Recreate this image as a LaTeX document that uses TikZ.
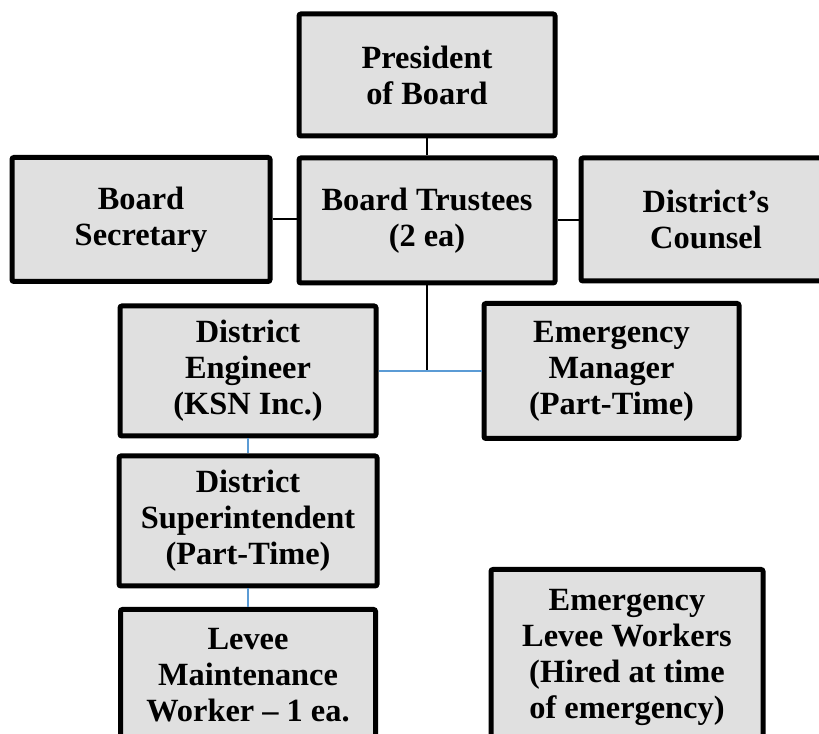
\documentclass[tikz,border=0pt]{standalone}
\usepackage{fontspec}
\setmainfont{Liberation Serif}
\usepackage{tikz}
\definecolor{boxgray}{RGB}{224,224,224}
\definecolor{lineblue}{RGB}{91,155,213}
\tikzset{
  orgbox/.style  = {shape=rectangle, rounded corners=1.5pt,
                    draw, line width=3.75pt, align=center,
                    fill=boxgray, inner sep=2pt,
                    font=\fontsize{24.3}{27}\selectfont\bfseries},
  topline/.style = {draw, line width=1.5pt},
  subline/.style = {draw=lineblue, line width=1.1pt}
}

\begin{document}
\begin{tikzpicture}[x=0.75pt, y=-0.75pt]
  \useasboundingbox (0,0) rectangle (819,734);

  \node [orgbox, minimum width=192pt, minimum height=91.5pt]
    (pres) at (427,75) {President\\of Board};
  \node [orgbox, minimum width=193.5pt, minimum height=93pt]
    (sec) at (141,219.5) {Board\\Secretary};
  \node [orgbox, minimum width=192pt, minimum height=93.75pt]
    (trust) at (427,220.5) {Board Trustees\\(2 ea)};
  \node [orgbox, minimum width=187.5pt, minimum height=92.25pt]
    (counsel) at (706,219.5) {District’s\\Counsel};

  \node [orgbox, minimum width=192pt, minimum height=97.5pt]
    (eng) at (248,371) {District\\Engineer\\(KSN Inc.)};
  \node [orgbox, minimum width=191.25pt, minimum height=101.25pt]
    (mgr) at (611.5,371) {Emergency\\Manager\\(Part-Time)};
  \node [orgbox, minimum width=193.5pt, minimum height=97.5pt]
    (supt) at (248,521) {District\\Superintendent\\(Part-Time)};
  \node [orgbox, minimum width=191.25pt, minimum height=99pt]
    (maint) at (248,675.5) {Levee\\Maintenance\\Worker -- 1 ea.};
  \node [orgbox, minimum width=204pt, minimum height=132pt]
    (crew) at (627,657.5) {Emergency\\Levee Workers\\(Hired at time\\of emergency)};

  \coordinate (split) at (trust.south |- eng.east);

  \draw [topline] (pres.south) -- (trust.north);
  \draw [topline] (sec.east) -- (sec.east -| trust.west);
  \draw [topline] (trust.east) -- (trust.east -| counsel.west);
  \draw [topline] (trust.south) -- (split);
  \draw [subline] (eng.east) -- (mgr.west);
  \draw [subline] (eng.south) -- (supt.north);
  \draw [subline] (supt.south) -- (maint.north);
\end{tikzpicture}
\end{document}
